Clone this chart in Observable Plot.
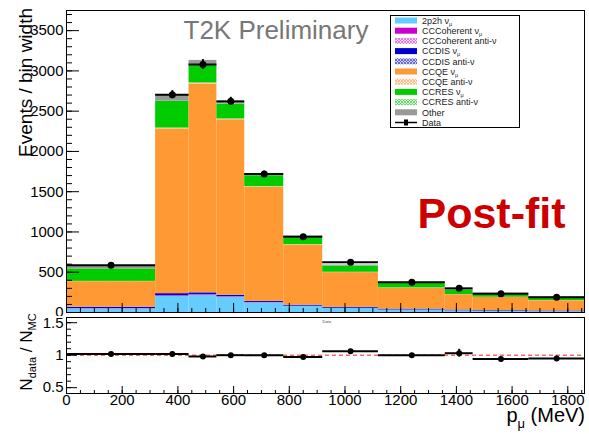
<!DOCTYPE html>
<html>
<head>
<meta charset="utf-8">
<script src="https://cdn.jsdelivr.net/npm/d3@7"></script>
<script src="https://cdn.jsdelivr.net/npm/@observablehq/plot@0.6"></script>
<style>
  body { margin: 0; background: white; }
  #wrap { position: relative; width: 589px; height: 434px; background: white; overflow: hidden; font-family: "Liberation Sans", Arial, sans-serif; }
  #wrap > * { position: absolute; left: 0; }
</style>
</head>
<body>
<svg width="0" height="0" style="position:absolute">
  <defs>
    <pattern id="hatchCoh" width="3" height="3" patternUnits="userSpaceOnUse">
      <rect width="3" height="3" fill="#f6d6f6"/><path d="M0,3 L3,0 M0,0 L3,3" stroke="#d070d0" stroke-width="0.8"/>
    </pattern>
    <pattern id="hatchDis" width="3" height="3" patternUnits="userSpaceOnUse">
      <rect width="3" height="3" fill="#d6d6f6"/><path d="M0,3 L3,0 M0,0 L3,3" stroke="#4a4ad0" stroke-width="0.8"/>
    </pattern>
    <pattern id="hatchQe" width="3" height="3" patternUnits="userSpaceOnUse">
      <rect width="3" height="3" fill="#fdebd8"/><path d="M0,3 L3,0 M0,0 L3,3" stroke="#f6b47a" stroke-width="0.8"/>
    </pattern>
    <pattern id="hatchRes" width="3" height="3" patternUnits="userSpaceOnUse">
      <rect width="3" height="3" fill="#d8f6d8"/><path d="M0,3 L3,0 M0,0 L3,3" stroke="#55cc55" stroke-width="0.8"/>
    </pattern>
  </defs>
</svg>
<div id="wrap"></div>
<script>
// ---- Data ----
const binLo = [0, 320, 440, 540, 640, 780, 920, 1120, 1360, 1460, 1660];
const binHi = [320, 440, 540, 640, 780, 920, 1120, 1360, 1460, 1660, 1860];

const components = ["2p2h", "CCCoherent", "CCCoherent anti", "CCDIS", "CCDIS anti", "CCQE", "CCQE anti", "CCRES", "CCRES anti", "Other"];
const componentFills = ["#66ccff", "#cc00cc", "url(#hatchCoh)", "#0000cc", "url(#hatchDis)", "#ff9933", "url(#hatchQe)", "#00cc00", "url(#hatchRes)", "#999999"];
const legendLabels = ["2p2h ν_μ", "CCCoherent ν_μ", "CCCoherent anti-ν", "CCDIS ν_μ", "CCDIS anti-ν", "CCQE ν_μ", "CCQE anti-ν", "CCRES ν_μ", "CCRES anti-ν", "Other", "Data"];

const v2p2h    = [45, 200, 215, 190, 120, 75, 50, 30, 20, 15, 10];
const vCoh     = [4, 8, 8, 6, 4, 3, 2, 1, 1, 1, 1];
const vCohAnti = [0.5, 1, 1, 1, 0.5, 0.5, 0.5, 0.5, 0.5, 0.5, 0.5];
const vDis     = [15, 25, 20, 17, 12, 12, 10, 10, 8, 7, 7];
const vDisAnti = [1, 1, 1, 1, 1, 1, 1, 1, 1, 1, 1];
const vQe      = [318, 2045, 2593, 2178, 1417, 746, 432, 260, 190, 163, 127];
const vQeAnti  = [3, 10, 12, 10, 8, 5, 4, 3, 2, 2, 2];
const vRes     = [155, 330, 232, 185, 137, 82, 77, 61, 57, 32, 32];
const vResAnti = [1, 3, 3, 2, 2, 1, 1, 1, 1, 1, 1];
const vOther   = [35, 80, 45, 30, 18, 25, 12, 8, 6, 20, 12];

const dataVal = [588, 2705, 3080, 2622, 1720, 940, 625, 376, 300, 232, 190];
const dataErr = [20, 50, 60, 50, 35, 25, 15, 10, 15, 8, 8];

const ratioVal = [1.02, 1.02, 0.98, 1.0, 1.0, 0.97, 1.06, 1.0, 1.03, 0.94, 0.95];
const ratioErr = [0.012, 0.015, 0.012, 0.013, 0.015, 0.02, 0.02, 0.02, 0.06, 0.02, 0.035];

const yTicksTop = [0, 500, 1000, 1500, 2000, 2500, 3000, 3500];
const xTicks = [0, 200, 400, 600, 800, 1000, 1200, 1400, 1600, 1800];
const yTicksRatio = [0.5, 1, 1.5];

// ---- Build tables ----
const compValues = [v2p2h, vCoh, vCohAnti, vDis, vDisAnti, vQe, vQeAnti, vRes, vResAnti, vOther];
const stackRows = [];
binLo.forEach((lo, i) => {
  components.forEach((c, k) => {
    stackRows.push({lo, hi: binHi[i], comp: c, fill: componentFills[k], v: compValues[k][i]});
  });
});
const points = binLo.map((lo, i) => ({lo, hi: binHi[i], mid: (lo + binHi[i]) / 2, v: dataVal[i], e: dataErr[i], r: ratioVal[i], re: ratioErr[i]}));

const FONT = "Liberation Sans, Arial, Helvetica, sans-serif";
const minorX = d3.range(0, 1861, 50);
const minorYTop = d3.range(0, 3750, 100);
const minorYRatio = d3.range(0.5, 1.55, 0.1);
const blank = () => "";
const plain = d => String(d);

const wrap = document.getElementById("wrap");

// ---- Top panel ----
const topPlot = Plot.plot({
  width: 589, height: 316,
  marginLeft: 66, marginRight: 5, marginTop: 10, marginBottom: 4,
  x: {domain: [0, 1860]},
  y: {domain: [0, 3750]},
  color: {type: "identity"},
  style: {fontFamily: FONT, fontSize: "15px", color: "black", background: "white"},
  marks: [
    Plot.rectY(stackRows, {x1: "lo", x2: "hi", y: "v", z: "comp", fill: "fill"}),
    Plot.ruleY(points, {x1: "lo", x2: "hi", y: "v", stroke: "black", strokeWidth: 2}),
    Plot.ruleX(points, {x: "mid", y1: d => d.v - d.e, y2: d => d.v + d.e, stroke: "black", strokeWidth: 2}),
    Plot.dot(points, {x: "mid", y: "v", r: 3.5, fill: "black", stroke: null}),
    Plot.axisY(yTicksTop, {tickSize: 0, tickPadding: 3, tickFormat: plain, label: null, fontSize: 15}),
    Plot.axisY(yTicksTop, {tickSize: -13, tickFormat: blank, label: null}),
    Plot.axisY(minorYTop, {tickSize: -6, tickFormat: blank, label: null}),
    Plot.axisX(xTicks, {tickSize: -9, tickFormat: blank, label: null}),
    Plot.axisX(minorX, {tickSize: -4, tickFormat: blank, label: null}),
    Plot.frame({stroke: "black"}),
    Plot.text(["T2K Preliminary"], {frameAnchor: "top-left", dx: 117, dy: 10, textAnchor: "start", lineAnchor: "top", fontSize: 26, fill: "#777777"}),
    Plot.text(["Post-fit"], {frameAnchor: "top-left", dx: 351, dy: 187, textAnchor: "start", lineAnchor: "top", fontSize: 43, fontWeight: "bold", fill: "#cc0000"})
  ]
});
topPlot.style.top = "0px";
wrap.appendChild(topPlot);

// ---- Ratio panel ----
const bottomPlot = Plot.plot({
  width: 589, height: 118,
  marginLeft: 66, marginRight: 5, marginTop: 1, marginBottom: 41,
  x: {domain: [0, 1860]},
  y: {domain: [0.41, 1.58]},
  style: {fontFamily: FONT, fontSize: "15px", color: "black", background: "white"},
  marks: [
    Plot.ruleY([1], {stroke: "#ff6666", strokeWidth: 1.5, strokeDasharray: "4,3"}),
    Plot.ruleY(points, {x1: "lo", x2: "hi", y: "r", stroke: "black", strokeWidth: 2}),
    Plot.ruleX(points, {x: "mid", y1: d => d.r - d.re, y2: d => d.r + d.re, stroke: "black", strokeWidth: 2}),
    Plot.dot(points, {x: "mid", y: "r", r: 3, fill: "black", stroke: null}),
    Plot.axisY(yTicksRatio, {tickSize: 0, tickPadding: 3, tickFormat: plain, label: null, fontSize: 15}),
    Plot.axisY(yTicksRatio, {tickSize: -11, tickFormat: blank, label: null}),
    Plot.axisY(minorYRatio, {tickSize: -5, tickFormat: blank, label: null}),
    Plot.axisX(xTicks, {tickSize: 0, tickPadding: 1, tickFormat: plain, label: null, fontSize: 15}),
    Plot.axisX(xTicks, {tickSize: -7, tickFormat: blank, label: null}),
    Plot.axisX(minorX, {tickSize: -3, tickFormat: blank, label: null}),
    Plot.frame({stroke: "black"}),
    Plot.text(["Data"], {frameAnchor: "top-left", dx: 256, dy: 3, textAnchor: "start", lineAnchor: "top", fontSize: 4, fill: "#444"})
  ]
});
bottomPlot.style.top = "316px";
wrap.appendChild(bottomPlot);

// ---- Overlay: legend and subscripted axis titles ----
const ov = d3.select(wrap).append("svg")
  .attr("width", 589).attr("height", 434)
  .style("top", "0px").style("pointer-events", "none")
  .attr("font-family", FONT);

function subText(sel, label, subSize, shift) {
  const parts = label.split("_");
  sel.append("tspan").text(parts[0]);
  if (parts.length > 1) {
    sel.append("tspan").attr("font-size", subSize).attr("dy", shift).text(parts[1]);
  }
}

const lg = ov.append("g");
lg.append("rect").attr("x", 390.5).attr("y", 15.5).attr("width", 129).attr("height", 112)
  .attr("fill", "white").attr("stroke", "black").attr("stroke-width", 1);
legendLabels.forEach((lab, i) => {
  const cy = 20.5 + i * 10.2;
  if (i < components.length) {
    lg.append("rect").attr("x", 395).attr("y", cy - 3).attr("width", 22).attr("height", 6)
      .attr("fill", componentFills[i]);
  } else {
    lg.append("line").attr("x1", 395).attr("x2", 417).attr("y1", cy).attr("y2", cy)
      .attr("stroke", "black").attr("stroke-width", 1.5);
    lg.append("rect").attr("x", 404).attr("y", cy - 3).attr("width", 4).attr("height", 6).attr("fill", "black");
  }
  const t = lg.append("text").attr("x", 422).attr("y", cy + 3.2).attr("font-size", 9).attr("fill", "#222");
  subText(t, lab, 5.5, 1.8);
});

// y title for the upper panel
ov.append("text").attr("transform", "translate(32,8) rotate(-90)")
  .attr("text-anchor", "end").attr("font-size", 19).attr("fill", "black")
  .text("Events / bin width");

// y title for ratio panel
const yr = ov.append("text").attr("transform", "translate(32,352) rotate(-90)")
  .attr("text-anchor", "middle").attr("font-size", 17).attr("fill", "black");
yr.append("tspan").text("N");
yr.append("tspan").attr("font-size", 11).attr("dy", 4).text("data");
yr.append("tspan").attr("dy", -4).text(" / N");
yr.append("tspan").attr("font-size", 11).attr("dy", 4).text("MC");

// x title
const xt = ov.append("text").attr("x", 585).attr("y", 422)
  .attr("text-anchor", "end").attr("font-size", 20).attr("fill", "black");
xt.append("tspan").text("p");
xt.append("tspan").attr("font-size", 13).attr("dy", 6).text("μ");
xt.append("tspan").attr("dy", -6).text(" (MeV)");
</script>
</body>
</html>
